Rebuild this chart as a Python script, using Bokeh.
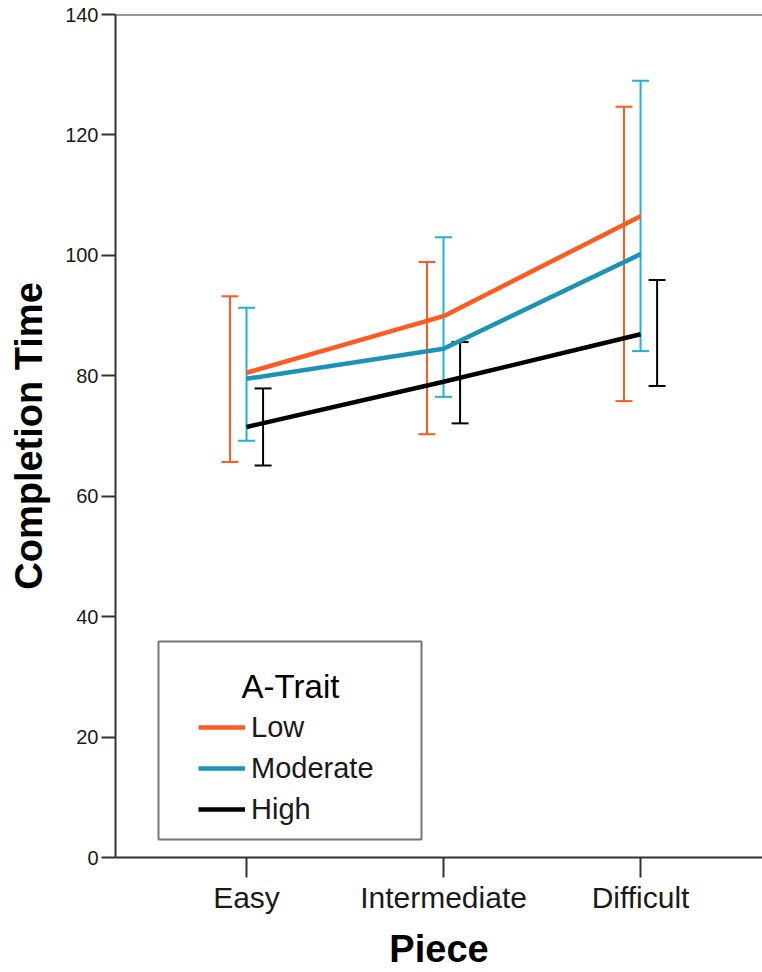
from bokeh.plotting import figure
from bokeh.models import (ColumnDataSource, Range1d, FixedTicker, Whisker, TeeHead,
                          Legend, LegendItem, Span, BoxAnnotation, Label)
from bokeh.transform import dodge
from bokeh.embed import file_html
from bokeh.resources import INLINE

pieces = ["Easy", "Intermediate", "Difficult"]
groups = ["Low", "Moderate", "High"]

low_mean = [80.5, 89.9, 106.5]
moderate_mean = [79.5, 84.5, 100.2]
high_mean = [71.5, 79.0, 86.9]

low_lower = [65.7, 70.3, 75.8]
low_upper = [93.2, 98.9, 124.7]
moderate_lower = [69.2, 76.5, 84.1]
moderate_upper = [91.3, 103.0, 129.0]
high_lower = [65.1, 72.1, 78.3]
high_upper = [77.9, 85.6, 95.9]

y_ticks = [0, 20, 40, 60, 80, 100, 120, 140]

pos = list(range(1, len(pieces) + 1))

FONT = "Liberation Sans"
ORANGE = "#ff5a1f"
TEAL_LINE = "#1a93b6"
CYAN_BAR = "#1fb3d8"
BLACK = "#000000"

p = figure(width=762, height=972, output_backend="svg", toolbar_location=None,
           x_range=Range1d(0.335, 3.619), y_range=Range1d(0, 140),
           min_border_left=115, min_border_right=0, min_border_top=14,
           min_border_bottom=114)
p.outline_line_color = None
p.xgrid.visible = False
p.ygrid.visible = False
p.background_fill_color = "white"
p.border_fill_color = "white"

# axes
p.xaxis.ticker = FixedTicker(ticks=pos)
p.xaxis.major_label_overrides = {i: n for i, n in zip(pos, pieces)}
p.xaxis.minor_tick_line_color = None
p.xaxis.major_tick_out = 20
p.xaxis.major_tick_in = 0
p.xaxis.major_tick_line_width = 2
p.xaxis.major_tick_line_color = "#333333"
p.xaxis.axis_line_width = 2
p.xaxis.axis_line_color = "#333333"
p.xaxis.major_label_text_font = FONT
p.xaxis.major_label_text_font_size = "30px"
p.xaxis.major_label_text_color = "#1a1a1a"
p.xaxis.major_label_standoff = 3
p.xaxis.axis_label = "Piece"
p.xaxis.axis_label_text_font = FONT
p.xaxis.axis_label_text_font_size = "38px"
p.xaxis.axis_label_text_font_style = "bold"
p.xaxis.axis_label_text_color = "#000000"
p.xaxis.axis_label_standoff = 11

p.yaxis.ticker = FixedTicker(ticks=y_ticks)
p.yaxis.minor_tick_line_color = None
p.yaxis.major_tick_out = 14
p.yaxis.major_tick_in = 0
p.yaxis.major_tick_line_width = 2
p.yaxis.major_tick_line_color = "#333333"
p.yaxis.axis_line_width = 2
p.yaxis.axis_line_color = "#333333"
p.yaxis.major_label_text_font = FONT
p.yaxis.major_label_text_font_size = "20px"
p.yaxis.major_label_text_color = "#1a1a1a"
p.yaxis.major_label_standoff = 3
p.yaxis.axis_label = "Completion Time"
p.yaxis.axis_label_text_font = FONT
p.yaxis.axis_label_text_font_size = "38px"
p.yaxis.axis_label_text_font_style = "bold"
p.yaxis.axis_label_text_color = "#000000"
p.yaxis.axis_label_standoff = 12

p.add_layout(Span(location=140, dimension="width", line_color="#333333", line_width=2))

# error bars (dodged)
DODGE = 0.084
bar_specs = [
    (low_lower, low_upper, -DODGE, ORANGE),
    (moderate_lower, moderate_upper, 0.0, CYAN_BAR),
    (high_lower, high_upper, DODGE, BLACK),
]
for lo, up, off, col in bar_specs:
    src = ColumnDataSource(dict(x=pos, lower=lo, upper=up))
    w = Whisker(base=dodge("x", off, range=p.x_range), lower="lower", upper="upper",
                source=src, dimension="height", line_color=col, line_width=2,
                upper_head=TeeHead(size=17, line_color=col, line_width=2),
                lower_head=TeeHead(size=17, line_color=col, line_width=2),
                level="underlay")
    p.add_layout(w)

# mean lines
line_specs = [(low_mean, ORANGE), (moderate_mean, TEAL_LINE), (high_mean, BLACK)]
renderers = []
for vals, col in line_specs:
    src = ColumnDataSource(dict(x=pos, y=vals))
    r = p.line("x", "y", source=src, line_color=col, line_width=4.5)
    renderers.append(r)

# legend
p.add_layout(BoxAnnotation(left=43, right=306, bottom=18, top=216,
                           left_units="screen", right_units="screen",
                           bottom_units="screen", top_units="screen",
                           fill_alpha=0, line_color="#777777", line_alpha=1.0,
                           line_width=2))
p.add_layout(Label(x=175, y=171, x_units="screen", y_units="screen", text="A-Trait",
                   text_align="center", text_baseline="alphabetic",
                   text_font=FONT, text_font_size="33px", text_color="#000000"))
legend = Legend(items=[LegendItem(label=g, renderers=[r]) for g, r in zip(groups, renderers)],
                location=(83, 28), padding=0, margin=0, spacing=1,
                glyph_width=47, glyph_height=40, label_height=40, label_standoff=6,
                label_text_font=FONT, label_text_font_size="29px",
                label_text_color="#1a1a1a", label_text_baseline="middle",
                border_line_alpha=0, background_fill_alpha=0)
p.add_layout(legend)

open("out.html", "w").write(file_html(p, INLINE))
